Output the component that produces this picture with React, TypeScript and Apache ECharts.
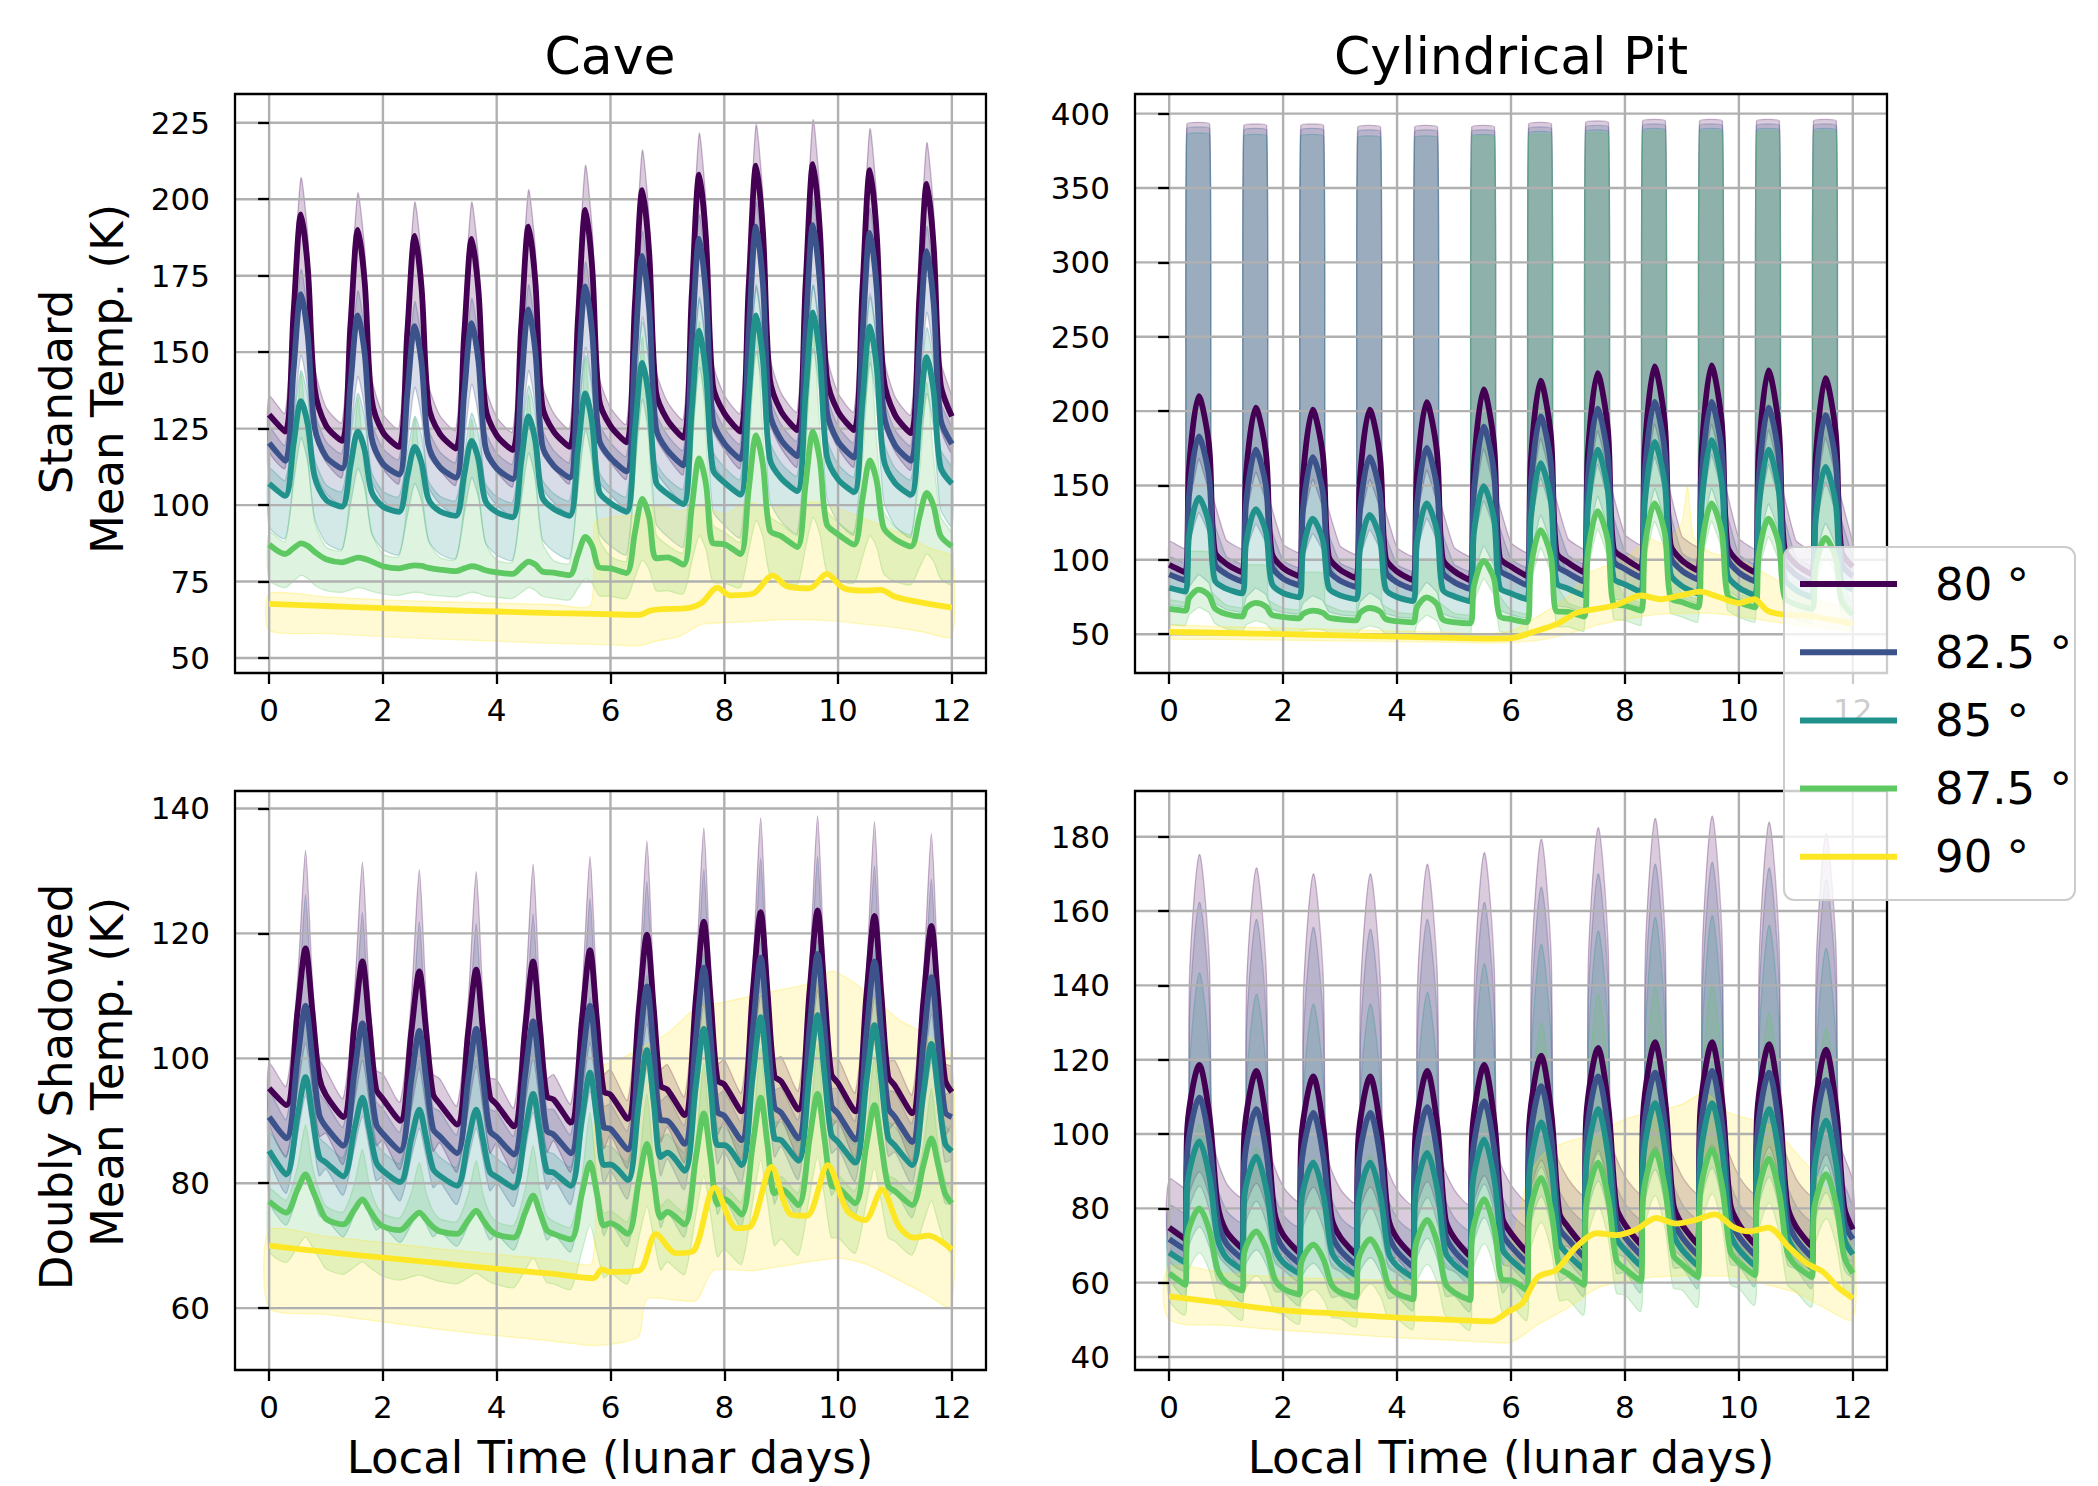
import React, { useEffect, useRef } from 'react';
import * as echarts from 'echarts';

// ---------- labels / categories ----------
const angles = ['80', '82.5', '85', '87.5', '90'];
const colors = ['#440154', '#3b528b', '#21918c', '#5ec962', '#fde725'];
const xTicks = [0, 2, 4, 6, 8, 10, 12];
const tlTicks = [50, 75, 100, 125, 150, 175, 200, 225];
const trTicks = [50, 100, 150, 200, 250, 300, 350, 400];
const blTicks = [60, 80, 100, 120, 140];
const brTicks = [40, 60, 80, 100, 120, 140, 160, 180];

// offsets within each lunar day at which the row values below were read
const cavePh = [0, 0.28, 0.43, 0.56, 0.68, 0.8];
const pitPh = [0, 0.28, 0.35, 0.52, 0.7, 0.8];
const barPh = [0, 0.28, 0.31, 0.71, 0.74];
const caveDblPh = [0, 0.3, 0.5, 0.64, 0.76, 0.88];
const pitDblPh = [0, 0.28, 0.32, 0.53, 0.71, 0.85];
const pitDblHiPh = [0, 0.3, 0.36, 0.53, 0.7, 0.77];

// ---------- Cave, standard ----------
const caveStd80 = [[129.6,124,163.1,195,177.3,138.2],[126,121,159,190,172.8,134.8],[123.8,119,157,188,170.8,132.8],[123.3,118.5,156.2,187,169.9,132.2],[122.8,118,158.2,191,172.8,132.6],[124.1,119,161.6,196.5,177.1,134.5],[125.9,120.5,165.9,203,182.4,137],[127.8,122,169.3,208,186.5,139.2],[130,124,171.9,211,189.3,141.4],[130.6,124.5,172.4,211.5,189.8,141.9],[130.6,124.5,171.3,209.5,188.3,141.5],[129.5,123.5,168.3,205,184.6,139.8],[129]];
const caveStd825 = [[120.3,114.5,144.5,169,155.4,125.4],[115.8,112,139.5,162,149.5,122],[113.5,110,136.7,158.5,146.4,119.7],[112.4,109,136.8,159.5,146.9,119.1],[112,108.5,139,164,150.1,119.6],[112.9,109,143.4,171.5,155.9,121.5],[115.4,111,149.8,181.5,163.9,125.1],[117.9,113,153.7,187,168.5,127.8],[120.2,115,156.8,191,172,130.2],[121.3,116,157.5,191.5,172.6,131.1],[120.8,115.5,155.9,189,170.6,130.2],[119.6,114.5,152.2,183,165.9,128.2],[120]];
const caveStd85 = [[107,103,120.1,134,126.3,109.2],[101.7,99.5,113,124,117.9,104.4],[99.5,97.8,109.5,119,113.7,102],[98,96.5,110,121,114.9,101.4],[97.7,96,114.2,129,120.8,102.6],[98.8,96.5,118.5,136.5,126.5,104.5],[100.6,97.8,124.6,146.5,134.3,107.5],[103.7,100.3,131.5,157,142.8,111.6],[107.4,103.4,135.6,162,147.4,115.1],[108.7,104.6,136.7,163,148.4,116.3],[108.4,104.3,134.1,158.4,144.9,115.1],[107.2,103.4,128.2,148.4,137.2,112.4],[107]];
const caveStd875 = [[87.1,84,85.9,87.5,86.6,84.7],[82.3,81.3,82.1,82.8,82.4,81.6],[80,79.3,79.9,80.3,80.1,79.5],[78.9,78.4,79.3,80,79.6,78.7],[78,77.5,79.7,81.5,80.5,78.3],[77.9,77.1,84,89.6,86.5,79.6],[79.3,77.8,91.1,102,96,82.6],[82.9,80.5,99.6,115.3,106.6,87.5],[87.2,84,105.3,122.8,113.1,91.8],[89.8,86.3,107,124,114.6,93.8],[90.4,87.1,102.2,114.6,107.7,92.6],[88.9,86.5,96.1,104,99.6,90],[86.5]];
const caveStd90 = [[0,67.7],[1,67],[2,66.3],[3,65.7],[4,65.2],[5,64.7],[6,64.3],[6.5,64.1],[6.7,65.5],[6.9,66],[7.3,66.2],[7.6,68],[7.88,73],[8.1,70.5],[8.5,71],[8.85,77],[9.1,73.5],[9.5,72.8],[9.8,77.5],[10.1,72.8],[10.5,72],[10.75,72.3],[11,70],[11.5,68],[12,66.5]];
const caveStd80Hi = [[135.6,130,172.4,207,187.8,145.4],[132,127,168.3,202,183.3,142],[129.8,125,165.7,199,180.5,139.8],[129.3,124.5,165.5,199,180.4,139.4],[128.8,124,167.5,203,183.3,139.8],[130.1,125,172.3,211,189.5,142.2],[131.9,126.5,175.7,216,193.6,144.4],[133.8,128,179.4,221.5,198.1,146.7],[136,130,181.9,224.3,200.7,148.9],[136.6,130.5,183,225.9,202.1,149.6],[136.6,130.5,181.4,223,199.9,149],[135.5,129.5,178.4,218.4,196.2,147.3],[135]];
const caveStd80Lo = [[117.6,112,141.7,166,152.5,122.8],[114,109,136.5,159,146.5,119],[111.8,107,133.4,155,143,116.6],[111.3,106.5,133.7,156,143.6,116.4],[110.8,106,136.3,161,147.3,117],[112.1,107,140.6,168,152.8,119.2],[113.9,108.5,146.7,178,160.6,122.4],[115.8,110,150.7,184,165.5,124.8],[118,112,153.8,188,169,127.2],[118.6,112.5,154,188,169.1,127.6],[118.6,112.5,152.9,186,167.6,127.2],[117.5,111.5,149.2,180,162.9,125.2],[117]];
const caveStd825Hi = [[125.3,119.5,151.1,177,162.6,131],[120.8,117,146.2,170,156.8,127.6],[118.5,115,143.3,166.5,153.6,125.3],[117.4,114,143.4,167.5,154.1,124.7],[117,113.5,145.7,172,157.4,125.2],[117.9,114,150,179.5,163.1,127.1],[120.4,116,156.4,189.5,171.1,130.7],[122.9,118,160.4,195,175.8,133.4],[125.2,120,163.5,199,179.3,135.8],[126.3,121,164.2,199.5,179.9,136.7],[125.8,120.5,162.6,197,177.9,135.8],[124.6,119.5,158.8,191,173.1,133.8],[125]];
const caveStd825Lo = [[108.3,102.5,128.1,149,137.4,111.8],[103.8,100,123.1,142,131.5,108.4],[101.5,98,120.3,138.5,128.4,106.1],[100.4,97,120.4,139.5,128.9,105.5],[100,96.5,122.6,144,132.1,106],[100.9,97,127,151.5,137.9,107.9],[103.4,99,133.4,161.5,145.9,111.5],[105.9,101,137.3,167,150.5,114.2],[108.2,103,140.4,171,154,116.6],[109.3,104,141.1,171.5,154.6,117.5],[108.8,103.5,139.5,169,152.6,116.6],[107.6,102.5,135.8,163,147.9,114.6],[108]];
const caveStd85Hi = [[112,108,127.8,144,135,115.2],[106.7,104.5,122.1,136.5,128.5,110.9],[104.5,102.8,117.2,129,122.5,108],[103,101.5,117.2,130,122.9,107.2],[102.7,101,121.9,139,129.5,108.6],[103.8,101.5,127.6,149,137.1,111],[105.6,102.8,134.3,160,145.7,114.2],[108.7,105.3,139.8,168,152.3,117.8],[112.4,108.4,143.4,172,156.1,121.1],[113.7,109.6,143.9,172,156.4,122.1],[113.4,109.3,141.6,168,153.3,121],[112.2,108.4,135.7,158,145.6,118.3],[112]];
const caveStd85Lo = [[93,89,107.2,122,113.8,95.6],[87.7,85.5,100.1,112,105.4,90.8],[85.5,83.8,96.6,107,101.2,88.4],[84,82.5,97.1,109,102.4,87.8],[83.7,82,101.3,117,108.3,89],[84.8,82.5,105.6,124.5,114,90.9],[86.6,83.8,111.7,134.5,121.8,93.9],[89.7,86.3,118.6,145,130.3,98],[93.4,89.4,122.7,150,134.9,101.5],[94.7,90.6,123.8,151,135.9,102.7],[94.4,90.3,121.2,146.4,132.4,101.5],[93.2,89.4,115.3,136.4,124.7,98.8],[93]];
const caveStd875Hi = [[91.1,88,110,143,115.5,94.6],[86.3,85.3,105.2,135,110.2,91.3],[84,83.3,101.4,128.5,105.9,88.7],[82.9,82.4,100.6,128,105.2,87.9],[82,81.5,103.3,136,108.8,88],[81.9,81.1,107.9,148,114.6,89.1],[83.3,81.8,111.1,155,118.4,90.6],[86.9,84.5,114.7,160,122.3,93.6],[91.2,88,116,158,123,96.4],[93.8,90.3,117.4,158,124.2,98.4],[94.4,91.1,114.7,150,120.6,98.2],[92.9,90.5,110.3,140,115.3,96.4],[90.5]];
const caveStd875Lo = [[75.5,73,75.2,77,76,73.8],[72,71.5,72.3,73,72.6,71.8],[71,70.5,71.1,71.5,71.3,70.7],[70.3,70,70.8,71.5,71.1,70.3],[69.8,69.5,71.4,73,72.1,70.2],[69.5,69,72.9,76,74.3,70.4],[70.2,69.5,76.4,82,78.9,72],[72,71,81.5,90,85.3,74.8],[74.5,73,85.1,95,89.5,77.4],[75.5,74,86.1,96,90.5,78.4],[75.5,74.5,83,90,86.1,77.6],[75,74,79.5,84,81.5,76],[74]];
const caveStd90Hi = [[0,71],[1,70],[2,69],[3,68.4],[4,67.9],[5,67.5],[5.65,67.2],[5.72,94],[6,96],[6.5,97],[6.8,100],[7.2,98],[7.6,100],[8,97],[8.4,101],[8.8,99],[9.2,100],[9.6,101],[10,99],[10.4,96],[10.8,93],[11.2,90],[11.6,86],[12,83]];
const caveStd90Lo = [[0,59],[1,58],[2,57],[3,56.2],[4,55.5],[5,54.8],[6,54.3],[6.5,54],[6.8,55.5],[7.2,57],[7.6,61],[8,61.5],[8.5,62],[9,62.5],[9.5,62.5],[10,62],[10.5,61],[11,60],[11.5,58.5],[12,57]];

// ---------- Cylindrical pit, standard ----------
const pitStd80 = [[96.7,91.5,162.6,210,176.8,105.7],[97.4,91.5,158,202.3,171.3,104.8],[94.5,89,156.2,201,169.6,102.4],[93.3,87.7,155.7,201,169.3,101.3],[92.1,86.4,158.2,206,172.5,100.8],[92.4,86.4,163.3,214.5,178.6,101.8],[95.4,89,167.8,220.4,183.6,104.8],[98.1,91.5,171.9,225.5,188,107.6],[100.8,94.1,175.6,230,191.9,110.4],[99.6,92.8,175.5,230.7,192.1,109.3],[98.4,91.5,173,227.3,189.3,107.8],[97,90.2,169.4,222.2,185.2,106],[95.4]];
const pitStd825 = [[90.2,86,144.2,183,155.8,97.6],[90.4,85.5,138.6,174,149.2,96.1],[87.4,83,134.6,169,144.9,93.3],[86,81.7,134.1,169,144.6,92.2],[84.8,80.4,137.3,175.3,148.7,91.8],[85.1,80.4,145.9,189.5,159,93.5],[88.5,83,151,196.4,164.6,96.6],[91.2,85.5,155.2,201.6,169.1,99.4],[93.8,88,158.9,206.2,173.1,102.2],[92.7,86.8,158.4,206.2,172.8,101.1],[91.5,85.5,155.6,202.3,169.6,99.5],[90,84.2,152,197.2,165.6,97.8],[89]];
const pitStd85 = [[81.2,78.6,116.5,141.8,124.1,86.2],[80.6,77.4,111.4,134,118.2,84.2],[77.6,74.8,106.5,127.6,112.8,81.1],[76.1,73.5,107.5,130.2,114.3,80.3],[75,72.2,111.6,137.9,119.5,80.1],[75.5,72.2,118.6,149.5,127.9,81.5],[77.4,73.5,128.4,165,139.4,84.5],[80.7,76.1,134.8,174,146.6,87.8],[83.5,78.6,139,179.2,151,90.7],[82.4,77.4,139.3,180.5,151.6,89.8],[81.3,76.1,134.8,174,146.6,87.8],[79.7,74.8,127.4,162.4,137.9,85.3],[80]];
const pitStd875 = [[67,65.8,74.3,80,76,67.5],[63.6,61.9,67.4,71,68.5,63],[61.6,60.6,63.7,65.8,64.3,61.2],[60,59.3,64.3,67.6,65.3,60.3],[58.7,58,68.1,74.8,70.1,60],[58.1,57.3,82.5,99.3,87.5,62.3],[60.1,58,95.2,120,102.6,65.4],[65,61.9,104.4,132.8,112.9,70.4],[69.3,65.8,109.1,138,117.8,74.5],[71.6,68,110,138,118.4,76.4],[71.5,68,103.8,127.6,110.9,75.2],[70,67,95.6,114.7,101.3,72.7],[63]];
const pitStd90 = [[0,51.6],[1,50.8],[2,50],[3,49.2],[4,48.3],[5,47.5],[5.6,47],[6,47.3],[6.4,51.6],[6.8,56.7],[7.16,64.5],[7.5,67],[7.85,69.6],[8.28,76],[8.63,73.5],[8.97,76],[9.32,78.6],[9.66,74.8],[10,70.9],[10.27,73.5],[10.5,65.8],[10.78,63.2],[11.2,62.5],[11.6,60],[12,57]];
const pitStd80Hi = [[112.7,107.5,393,393,148],[113.4,107.5,392,392,145.3],[110.5,105,392,392,143.2],[109.3,103.7,391,391,142.4],[108.1,102.4,391,391,143.3],[108.4,102.4,391,391,146.2],[111.4,105,393,393,150],[114.1,107.5,394,394,153.4],[116.8,110.1,395,395,156.7],[115.6,108.8,395,395,156.1],[114.4,107.5,395,395,154],[113,106.2,395,395,151.4],[111]];
const pitStd80Lo = [[90.2,86,135.2,168,145,95.8],[90.4,85.5,129.6,159,138.4,94.3],[87.4,83,125.6,154,134.1,91.5],[86,81.7,125.1,154,133.8,90.4],[84.8,80.4,128.3,160.3,137.9,90],[85.1,80.4,136.9,174.5,148.2,91.7],[88.5,83,142,181.4,153.8,94.8],[91.2,85.5,146.2,186.6,158.3,97.6],[93.8,88,149.9,191.2,162.3,100.4],[92.7,86.8,149.4,191.2,162,99.3],[91.5,85.5,146.6,187.3,158.8,97.7],[90,84.2,143,182.2,154.8,96],[89]];
const pitStd825Hi = [[102.2,98,390,390,132],[102.4,97.5,389,389,128.5],[99.4,95,389,389,125.1],[98,93.7,388,388,124.3],[96.8,92.4,388,388,125.6],[97.1,92.4,388,388,130.6],[100.5,95,390,390,134.7],[103.2,97.5,391,391,138.1],[105.8,100,392,392,141.4],[104.7,98.8,392,392,140.6],[103.5,97.5,392,392,138.4],[102,96.2,392,392,135.8],[101]];
const pitStd825Lo = [[81.2,78.6,110.5,131.8,116.9,85],[80.6,77.4,105.4,124,111,83],[77.6,74.8,100.5,117.6,105.6,79.9],[76.1,73.5,101.5,120.2,107.1,79.1],[75,72.2,105.6,127.9,112.3,78.9],[75.5,72.2,112.6,139.5,120.7,80.3],[77.4,73.5,122.4,155,132.2,83.3],[80.7,76.1,128.8,164,139.4,86.6],[83.5,78.6,133,169.2,143.8,89.5],[82.4,77.4,133.3,170.5,144.4,88.6],[81.3,76.1,128.8,164,139.4,86.6],[79.7,74.8,121.4,152.4,130.7,84.1],[80]];
const pitStd85Hi = [[91.2,88.6,386,386,110.7],[90.6,87.4,385,385,107.2],[87.6,84.8,385,385,103.3],[86.1,83.5,384,384,103.3],[85,82.2,384,384,105.2],[85.5,82.2,385,385,109.3],[87.4,83.5,387,387,115.5],[90.7,86.1,388,388,120.4],[93.5,88.6,389,389,123.8],[92.4,87.4,389,389,123.5],[91.3,86.1,389,389,120.4],[89.7,84.8,389,389,115.5],[90]];
const pitStd85Lo = [[70,68.8,81.5,90,84.1,71.3],[66.6,64.9,74.6,81,76.5,66.8],[64.6,63.6,70.9,75.8,72.4,65.1],[63,62.3,71.5,77.6,73.3,64.1],[61.7,61,75.3,84.8,78.1,63.9],[61.1,60.3,89.7,109.3,95.6,66.2],[63.1,61,102.4,130,110.7,69.3],[68,64.9,111.6,142.8,121,74.2],[72.3,68.8,116.3,148,125.8,78.3],[74.6,71,117.2,148,126.4,80.2],[74.5,71,111,137.6,119,79],[73,70,102.8,124.7,109.4,76.6],[66]];
const pitStd875Hi = [[73,71.8,105,105,78.8],[69.6,67.9,96,96,73.1],[67.6,66.6,91,91,70.4],[66,65.3,93,93,70.2],[64.7,64,100,100,71.9],[64.1,63.3,384,384,80],[66.1,64,385,385,87.7],[71,67.9,386,386,94.7],[75.3,71.8,387,387,99.1],[77.6,74,387,387,100.5],[77.5,74,387,387,96.9],[76,73,387,387,91.7],[69]];
const pitStd875Lo = [[57,55.8,63.1,68,64.6,57.3],[53.6,51.9,56.2,59,57,52.8],[51.6,50.6,52.5,53.8,52.9,51],[50,49.3,53.1,55.6,53.8,50.1],[48.7,48,56.9,62.8,58.7,49.8],[48.1,47.3,71.3,87.3,76.1,52.1],[50.1,48,84,108,91.2,55.2],[55,51.9,93.2,120.8,101.5,60.2],[59.3,55.8,97.9,126,106.3,64.2],[61.6,58,98.8,126,107,66.2],[61.5,58,92.6,115.6,99.5,64.9],[60,57,84.4,102.7,89.9,62.5],[53]];
const pitStd90Hi = [[0,56],[1,55],[2,54],[3,53],[4,52],[5,51],[5.6,50.5],[6,52],[6.3,58],[6.6,65],[7,75],[7.3,90],[7.6,95],[8,100],[8.4,115],[8.7,110],[9,125],[9.1,150],[9.2,115],[9.5,105],[10,100],[10.5,90],[11,80],[11.5,72],[12,66]];
const pitStd90Lo = [[0,47],[1,46.5],[2,46],[3,45.5],[4,45],[5,44.5],[5.6,44],[6,44.5],[6.5,46],[7,50],[7.5,56],[8,60],[8.5,63],[9,64],[9.5,64],[10,62],[10.5,59],[11,56],[11.5,54],[12,52]];

// ---------- Cave, doubly shadowed ----------
const caveDbl80 = [[95.2,92.5,107.6,117.6,107.6,97],[94.1,90.6,105.5,115.5,105.5,95.1],[93.5,90,104.3,113.9,104.3,94.3],[92.7,89.4,104.3,114.2,104.3,93.9],[92.6,89.1,104.9,115.5,104.9,93.9],[93.4,89.7,106.3,117.3,106.3,94.7],[94.2,90.3,108,119.8,108,95.6],[95,90.9,109.5,121.9,109.5,96.5],[95.8,91.5,110.6,123.4,110.6,97.2],[96.3,91.8,110.9,123.7,110.9,97.5],[96,91.5,110.3,122.8,110.3,97.1],[95.6,91.2,109.2,121.2,109.2,96.6],[94.6]];
const caveDbl825 = [[90.6,87.2,99.9,108.4,99.9,91],[89,86,97.8,105.6,97.8,89.5],[87.9,85.2,96.7,104.4,96.7,88.7],[87.5,84.8,96.7,104.7,96.7,88.4],[87.4,84.6,97.4,105.9,97.4,88.4],[87.8,84.8,99,108.4,99,89],[88.7,85.4,101.1,111.5,101.1,90.1],[90,86.3,103.2,114.5,103.2,91.4],[90.8,86.9,104.4,116.1,104.4,92.2],[91.3,87.2,104.9,116.7,104.9,92.5],[91.1,87,104.1,115.5,104.1,92.1],[90.6,86.6,102.4,113,102.4,91.4],[90.6]];
const caveDbl85 = [[85.2,81.4,90.8,97,90.8,84.2],[83.3,81.1,88.7,93.7,88.7,83.4],[82,80.2,87.2,91.8,87.2,82.3],[81.2,79.6,86.9,91.8,86.9,81.8],[81,79.3,88.3,94.3,88.3,82],[81.7,79.6,90.5,97.7,90.5,82.9],[83,80.5,93,101.3,93,84.2],[84.9,82,95.6,104.7,95.6,86.1],[86.1,82.9,97.1,106.6,97.1,87.2],[86.9,83.6,97.6,106.9,97.6,87.8],[86.6,83.3,96.5,105.3,96.5,87.3],[86,82.9,94.5,102.3,94.5,86.4],[85.1]];
const caveDbl875 = [[77.1,75.3,79,81.4,79,76.4],[74.3,73.4,75.8,77.4,75.8,74.1],[73.1,72.5,74.2,75.3,74.2,73],[72.3,71.9,74.1,75.6,74.1,72.6],[71.8,71.3,75.3,78,75.3,72.5],[71.9,71,78.4,83.3,78.4,73.2],[73.6,71.9,80.5,86.3,80.5,74.5],[75.4,73.4,84.1,91.2,84.1,76.6],[77.5,75,86.2,93.7,86.2,78.4],[79.1,76.5,87.2,94.3,87.2,79.7],[79.3,76.8,86.2,92.5,86.2,79.6],[78.7,76.5,82.9,87.2,82.9,78.4],[76.8]];
const caveDbl90 = [[0,70],[1,69],[2,68.1],[3,67.2],[4,66.3],[5,65.5],[5.7,64.8],[5.85,66.2],[6,65.8],[6.5,66],[6.8,71.9],[7.15,68.8],[7.45,69.1],[7.83,79.3],[8.22,72.8],[8.45,73],[8.83,82.6],[9.17,75],[9.45,74.8],[9.82,82.9],[10.16,75.6],[10.47,74.1],[10.77,79],[11.07,73.1],[11.33,71.3],[11.59,71.6],[12,69.4]];
const caveDbl80Hi = [[99.2,95.5,112.5,133.3,112.5,100],[98.1,93.6,110.6,131.4,110.6,98.1],[97.5,93,109.7,130.2,109.7,97.5],[96.7,92.4,109.3,129.9,109.3,96.9],[96.6,92.1,109.7,131.1,109.7,96.8],[97.4,92.7,110.5,132.3,110.5,97.5],[98.2,93.3,112,134.8,112,98.3],[99,93.9,113.3,136.9,113.3,99.1],[99.8,94.5,114.3,138.5,114.3,99.8],[100.3,94.8,114.6,138.8,114.6,100.1],[100,94.5,114,137.9,114,99.7],[99.6,94.2,113,136,113,99.2],[98.6]];
const caveDbl80Lo = [[89.6,84.2,95.1,102.4,95.1,87.5],[88,83,93,99.6,93,86],[86.9,82.2,91.9,98.4,91.9,85.1],[86.5,81.8,91.9,98.7,91.9,84.8],[86.4,81.6,92.6,99.9,92.6,84.9],[86.8,81.8,94.2,102.4,94.2,85.5],[87.7,82.4,96.3,105.5,96.3,86.6],[89,83.3,98.4,108.5,98.4,87.8],[89.8,83.9,99.6,110.1,99.6,88.6],[90.3,84.2,100.1,110.7,100.1,89],[90.1,84,99.3,109.5,99.3,88.6],[89.6,83.6,97.6,107,97.6,87.8],[89.6]];
const caveDbl825Hi = [[94.6,90.2,106.4,126.2,106.4,94.5],[93,89,104.5,123.4,104.5,93.1],[91.9,88.2,103.4,121.9,103.4,92.2],[91.5,87.8,103,121.6,103,91.9],[91.4,87.6,103.6,123.1,103.6,91.9],[91.8,87.8,104.8,125.6,104.8,92.3],[92.7,88.4,106.4,128.3,106.4,93.2],[94,89.3,107.7,130.2,107.7,94.2],[94.8,89.9,108.8,132,108.8,95],[95.3,90.2,109.1,132.3,109.1,95.3],[95.1,90,108.4,130.8,108.4,94.9],[94.6,89.6,107.2,128.7,107.2,94.3],[94.6]];
const caveDbl825Lo = [[84.2,78.4,87.8,94,87.8,81.2],[82.3,78.1,85.7,90.7,85.7,80.4],[81,77.2,84.2,88.8,84.2,79.3],[80.2,76.6,83.9,88.8,83.9,78.8],[80,76.3,85.3,91.3,85.3,79],[80.7,76.6,87.5,94.7,87.5,79.9],[82,77.5,90,98.3,90,81.2],[83.9,79,92.6,101.7,92.6,83.1],[85.1,79.9,94.1,103.6,94.1,84.2],[85.9,80.6,94.6,103.9,94.6,84.8],[85.6,80.3,93.5,102.3,93.5,84.3],[85,79.9,91.5,99.3,91.5,83.4],[84]];
const caveDbl85Hi = [[88.2,84.4,95.5,109,95.5,87.4],[86.3,84.1,93.8,105.7,93.8,86.7],[85,83.2,92.5,103.8,92.5,85.7],[84.2,82.6,92.1,103.8,92.1,85.1],[84,82.3,93.1,106.3,93.1,85.2],[84.7,82.6,94.8,109.7,94.8,85.9],[86,83.5,96.9,113.3,96.9,87.1],[87.9,85,99.3,116.7,99.3,88.8],[89.1,85.9,100.6,118.6,100.6,89.8],[89.9,86.6,101.1,118.9,101.1,90.5],[89.6,86.3,100.3,117.3,100.3,90],[89,85.9,98.7,114.3,98.7,89.3],[88]];
const caveDbl85Lo = [[77.1,73.3,78.2,81.4,78.2,74.8],[74.3,71.4,75,77.4,75,72.5],[73.1,70.5,73.4,75.3,73.4,71.4],[72.3,69.9,73.3,75.6,73.3,70.9],[71.8,69.3,74.5,78,74.5,70.9],[71.9,69,77.6,83.3,77.6,71.6],[73.6,69.9,79.7,86.3,79.7,72.9],[75.4,71.4,83.3,91.2,83.3,75],[77.5,73,85.4,93.7,85.4,76.7],[79.1,74.5,86.4,94.3,86.4,78.1],[79.3,74.8,85.4,92.5,85.4,78],[78.7,74.5,82.1,87.2,82.1,76.8],[76.8]];
const caveDbl875Hi = [[79.1,77.3,82.7,89.4,82.7,78.8],[76.3,75.4,79.9,85.4,79.9,76.6],[75.1,74.5,78.5,83.3,78.5,75.6],[74.3,73.9,78.3,83.6,78.3,75.1],[73.8,73.3,79,86,79,74.8],[73.9,73,81.2,91.3,81.2,75.2],[75.6,73.9,83.1,94.3,83.1,76.3],[77.4,75.4,86.1,99.2,86.1,78.3],[79.5,77,88.1,101.7,88.1,80],[81.1,78.5,89.2,102.3,89.2,81.4],[81.3,78.8,88.6,100.5,88.6,81.4],[80.7,78.5,86,95.2,86,80.5],[78.8]];
const caveDbl875Lo = [[69.1,67.3,69.8,71.4,69.8,68],[66.3,65.4,66.6,67.4,66.6,65.8],[65.1,64.5,65,65.3,65,64.6],[64.3,63.9,64.9,65.6,64.9,64.2],[63.8,63.3,66.1,68,66.1,64.1],[63.9,63,69.2,73.3,69.2,64.9],[65.6,63.9,71.3,76.3,71.3,66.1],[67.4,65.4,74.9,81.2,74.9,68.2],[69.5,67,77,83.7,77,70],[71.1,68.5,78,84.3,78,71.3],[71.3,68.8,77,82.5,77,71.3],[70.7,68.5,73.7,77.2,73.7,70.1],[68.8]];
const caveDbl90Hi = [[0,72.5],[1,71.5],[2,70.5],[3,69.5],[4,68.6],[5,67.8],[5.68,67.3],[5.75,98],[6.2,100],[6.6,102],[7,104],[7.5,108],[8,109],[8.5,110],[9,111],[9.5,112],[9.9,114],[10.3,112],[10.7,109],[11.1,106],[11.5,104],[12,100]];
const caveDbl90Lo = [[0,60],[1,59],[2,57.8],[3,56.6],[4,55.6],[5,54.7],[5.7,54],[6.2,54.5],[6.5,55.5],[6.65,61.5],[7.5,61.2],[7.8,66],[8.5,66],[9,66.7],[10,68],[10.5,67],[11,64.8],[11.5,62.5],[12,60.2]];

// ---------- Cylindrical pit, doubly shadowed ----------
const pitDbl80 = [[74.8,71.7,102.2,118.6,104.5,81.1],[73.9,69.2,100.3,117,102.7,78.8],[72.9,68.1,98.9,115.5,101.3,77.6],[72.3,67.6,98.7,115.5,101.1,77.2],[71.9,67.1,99.5,117,102,77.1],[72.1,67.1,100.6,118.6,103.2,77.4],[73.3,68.1,102.6,121.1,105.2,78.7],[75,69.7,104.5,123.2,107.2,80.4],[75.6,70.2,105.6,124.7,108.4,81.1],[75.7,70.2,105.6,124.7,108.4,81.1],[75.7,70.2,105.3,124.2,108,81],[75.1,69.7,104.2,122.7,106.8,80.3],[74.3]];
const pitDbl825 = [[71.7,68.9,95.5,109.8,97.5,77.1],[70.6,66.5,92.6,106.7,94.6,74.5],[69.3,65.3,91.6,105.7,93.6,73.4],[68.8,64.8,91.4,105.7,93.4,73],[68.4,64.3,92.2,107.2,94.3,72.9],[68.6,64.3,93.2,108.8,95.5,73.2],[69.8,65.3,96.2,112.9,98.6,74.8],[71.7,66.9,98.5,115.5,100.9,76.6],[72.3,67.4,99.3,116.5,101.8,77.2],[72.3,67.4,99.6,117,102.1,77.3],[72.4,67.4,99.3,116.5,101.8,77.2],[71.8,66.9,97.8,114.5,100.2,76.4],[71.7]];
const pitDbl85 = [[68.1,65.4,86.6,98,88.2,71.9],[66.8,63.5,83.3,93.9,84.8,69.6],[65.5,62.5,81.9,92.3,83.4,68.5],[65,62,81.7,92.3,83.2,68.1],[64.5,61.5,83.2,94.9,84.9,68.2],[65,61.7,85.6,98.5,87.5,69.1],[66.2,62.5,88.9,103.1,90.9,70.6],[67.6,63.5,91.6,106.7,93.7,72.1],[68.8,64.5,93,108.3,95.2,73.3],[68.9,64.5,93,108.3,95.2,73.3],[68.9,64.5,91.9,106.7,94,72.9],[68.2,64,89.7,103.6,91.7,71.9],[67.6]];
const pitDbl875 = [[62.5,59.4,72.8,80,73.8,63.5],[60,57.9,68.2,73.8,69,61.1],[58.4,56.8,65.5,70.2,66.2,59.5],[57.4,56.1,66.2,71.7,67,59.2],[57.1,55.5,69.4,76.9,70.5,59.8],[57.4,55.3,73,82.5,74.3,60.7],[60.6,57.9,77.6,88.2,79.1,64],[62.4,59.4,80.8,92.3,82.4,66],[63.7,60.4,83.2,95.4,84.9,67.4],[65,61.5,83.9,95.9,85.6,68.4],[65.4,62,82.4,93.4,84,68.3],[64.6,61.5,79.5,89.2,80.9,67],[62.5]];
const pitDbl90 = [[0,56.3],[1,54.4],[1.9,52.7],[3,51.6],[4,50.6],[5,50],[5.65,49.6],[5.95,52.2],[6.2,54.5],[6.47,61.5],[6.8,63.5],[7.15,69.7],[7.5,73.3],[7.85,72.8],[8.2,74.3],[8.55,77.4],[8.9,75.9],[9.24,76.9],[9.58,78.4],[9.92,74.8],[10.18,73.8],[10.52,74.8],[10.87,69.7],[11.2,65.1],[11.47,63],[11.73,58.9],[12,55.8]];
const pitDbl80Hi = [[87.8,85.7,143.9,175.2,148.4,99.1],[86.9,83.2,140.7,171.6,145.1,96.5],[85.9,82.1,139.2,170,143.6,95.3],[85.3,81.6,139.1,170,143.5,94.9],[84.9,81.1,140.6,172.6,145.2,94.8],[85.1,81.1,142.6,175.7,147.3,95.3],[86.3,82.1,145.3,179.3,150.1,96.7],[88,83.7,147.9,182.4,152.8,98.5],[88.6,84.2,149.7,184.9,154.7,99.3],[88.7,84.2,150,185.5,155.1,99.4],[88.7,84.2,149,183.9,154,99.2],[88.1,83.7,146.8,180.8,151.7,98.3],[87]];
const pitDbl80Lo = [[69.7,66.9,81.8,89.8,82.9,71.5],[68.6,64.5,78.9,86.7,80,68.9],[67.3,63.3,77.9,85.7,79,67.8],[66.8,62.8,77.7,85.7,78.8,67.4],[66.4,62.3,78.5,87.2,79.7,67.3],[66.6,62.3,79.5,88.8,80.9,67.6],[67.8,63.3,82.5,92.9,84,69.2],[69.7,64.9,84.8,95.5,86.3,71],[70.3,65.4,85.6,96.5,87.2,71.6],[70.3,65.4,85.9,97,87.5,71.7],[70.4,65.4,85.6,96.5,87.2,71.6],[69.8,64.9,84.1,94.5,85.6,70.8],[69.7]];
const pitDbl825Hi = [[80.7,78.9,133.1,162.3,137.3,91.4],[79.6,76.5,129.3,157.7,133.3,88.7],[78.3,75.3,127.5,155.6,131.5,87.3],[77.8,74.8,127,155.1,131,86.8],[77.4,74.3,128.5,157.7,132.7,86.8],[77.6,74.3,131.5,162.3,135.9,87.5],[78.8,75.3,134.5,166.4,139.1,89],[80.7,76.9,137.4,170,142.1,90.9],[81.3,77.4,139.3,172.6,144,91.7],[81.3,77.4,139.6,173.1,144.4,91.8],[81.4,77.4,138.6,171.6,143.3,91.5],[80.8,76.9,136.4,168.5,141,90.6],[80]];
const pitDbl825Lo = [[66.1,63.4,78.1,86,79.2,67.9],[64.8,61.5,74.8,81.9,75.8,65.6],[63.5,60.5,73.4,80.3,74.4,64.5],[63,60,73.2,80.3,74.2,64.1],[62.5,59.5,74.7,82.9,75.9,64.2],[63,59.7,77.1,86.5,78.5,65.1],[64.2,60.5,80.4,91.1,81.9,66.6],[65.6,61.5,83.1,94.7,84.7,68.1],[66.8,62.5,84.5,96.3,86.2,69.3],[66.9,62.5,84.5,96.3,86.2,69.3],[66.9,62.5,83.4,94.7,85,68.9],[66.2,62,81.2,91.6,82.7,67.9],[65.6]];
const pitDbl85Hi = [[75.1,73.4,118.8,143.3,122.3,83.9],[73.8,71.5,114.5,137.6,117.8,81.4],[72.5,70.5,112.4,135,115.7,80.2],[72,70,112.3,135,115.5,79.8],[71.5,69.5,114.1,138.1,117.5,79.8],[72,69.7,119.2,145.8,123,81.1],[73.2,70.5,122.8,151,126.9,82.6],[74.6,71.5,125.5,154.6,129.7,84],[75.8,72.5,128.2,158.2,132.5,85.4],[75.9,72.5,128.5,158.7,132.8,85.4],[75.9,72.5,126.8,156.1,131,85],[75.2,72,122.7,150,126.6,83.7],[74]];
const pitDbl85Lo = [[61.5,56.4,68.5,75,69.4,60.1],[59,54.9,63.9,68.8,64.6,57.7],[57.4,53.8,61.2,65.2,61.8,56.1],[56.4,53.1,61.9,66.7,62.6,55.8],[56.1,52.5,65.1,71.9,66.1,56.4],[56.4,52.3,68.7,77.5,69.9,57.3],[59.6,54.9,73.3,83.2,74.7,60.6],[61.4,56.4,76.5,87.3,78,62.6],[62.7,57.4,78.9,90.4,80.5,64],[64,58.5,79.6,90.9,81.2,65],[64.4,59,78.1,88.4,79.6,64.9],[63.6,58.5,75.2,84.2,76.5,63.6],[61.5]];
const pitDbl875Hi = [[68.5,65.4,89.6,102.6,91.4,71],[66,63.9,85,96.4,86.7,68.8],[64.4,62.8,82.7,93.4,84.2,67.4],[63.4,62.1,83.1,94.4,84.7,66.9],[63.1,61.5,86.2,99.5,88.1,67.2],[63.4,61.3,99.5,120,102.4,70.1],[66.6,63.9,106.9,130,110.2,73.8],[68.4,65.4,112.3,137.6,115.9,76.2],[69.7,66.4,114,139.7,117.7,77.4],[71,67.5,114.8,140.2,118.4,78.4],[71.4,68,109.9,132.5,113.2,77.7],[70.6,67.5,107,128.3,110.1,76.6],[68.5]];
const pitDbl875Lo = [[55.5,51.4,62.2,68,63,54.7],[53,49.9,57.6,61.8,58.2,52.3],[51.4,48.8,54.9,58.2,55.4,50.7],[50.4,48.1,55.6,59.7,56.2,50.4],[50.1,47.5,58.8,64.9,59.7,51],[50.4,47.3,62.4,70.5,63.5,51.9],[53.6,49.9,67,76.2,68.3,55.2],[55.4,51.4,70.2,80.3,71.6,57.2],[56.7,52.4,72.6,83.4,74.1,58.6],[58,53.5,73.3,83.9,74.8,59.6],[58.4,54,71.8,81.4,73.2,59.5],[57.6,53.5,68.9,77.2,70.1,58.2],[55.5]];
const pitDbl90Hi = [[0,64],[1,62.5],[2,61.5],[3,61],[4,60.6],[5,60.3],[5.7,60],[6,70],[6.3,88],[6.6,95],[7,98],[7.5,100],[8,104],[8.5,106],[9,108],[9.4,111],[9.8,106],[10.2,104],[10.6,102],[11,95],[11.4,88],[11.8,78],[12,72]];
const pitDbl90Lo = [[0,50.2],[1,48.5],[2,47.2],[3,46.2],[4,45.2],[5,44.5],[5.6,44],[6,44],[6.5,49],[7,53.2],[7.5,58.4],[8,60.4],[8.5,61.5],[9,61.8],[9.5,61.8],[10,61.5],[10.5,59.4],[11,57.3],[11.5,53.2],[12,50.2]];

// ---------- helpers ----------
const FONT = '"DejaVu Sans", sans-serif';
const X_MIN = -0.6;
const X_MAX = 12.6;

function cyc(rows: number[][], phase: number[]): number[][] {
  const out: number[][] = [];
  rows.forEach((row, day) => row.forEach((v, j) => out.push([day + phase[j], v])));
  return out;
}
function rgba(hex: string, a: number) {
  const n = parseInt(hex.slice(1), 16);
  return `rgba(${n >> 16},${(n >> 8) & 255},${n & 255},${a})`;
}

export default function App() {
  const ref = useRef<HTMLDivElement>(null);
  useEffect(() => {
    if (!ref.current) return;
    const chart = echarts.init(ref.current, undefined, { renderer: 'svg' });

    const panels = [
      {
        left: 235, top: 94, width: 751, height: 579, yMin: 45.1, yMax: 234.4, yTicks: tlTicks, bandSmooth: 0.22,
        lines: [cyc(caveStd80, cavePh), cyc(caveStd825, cavePh), cyc(caveStd85, cavePh), cyc(caveStd875, cavePh), caveStd90],
        hi: [cyc(caveStd80Hi, cavePh), cyc(caveStd825Hi, cavePh), cyc(caveStd85Hi, cavePh), cyc(caveStd875Hi, cavePh), caveStd90Hi],
        lo: [cyc(caveStd80Lo, cavePh), cyc(caveStd825Lo, cavePh), cyc(caveStd85Lo, cavePh), cyc(caveStd875Lo, cavePh), caveStd90Lo],
      },
      {
        left: 1135, top: 94, width: 752, height: 579, yMin: 23.9, yMax: 413.2, yTicks: trTicks, bandSmooth: 0.1,
        lines: [cyc(pitStd80, pitPh), cyc(pitStd825, pitPh), cyc(pitStd85, pitPh), cyc(pitStd875, pitPh), pitStd90],
        hi: [cyc(pitStd80Hi, barPh), cyc(pitStd825Hi, barPh), cyc(pitStd85Hi, barPh), cyc(pitStd875Hi, barPh), pitStd90Hi],
        lo: [cyc(pitStd80Lo, pitPh), cyc(pitStd825Lo, pitPh), cyc(pitStd85Lo, pitPh), cyc(pitStd875Lo, pitPh), pitStd90Lo],
      },
      {
        left: 235, top: 791, width: 751, height: 579, yMin: 50.1, yMax: 142.8, yTicks: blTicks, bandSmooth: 0.22,
        lines: [cyc(caveDbl80, caveDblPh), cyc(caveDbl825, caveDblPh), cyc(caveDbl85, caveDblPh), cyc(caveDbl875, caveDblPh), caveDbl90],
        hi: [cyc(caveDbl80Hi, caveDblPh), cyc(caveDbl825Hi, caveDblPh), cyc(caveDbl85Hi, caveDblPh), cyc(caveDbl875Hi, caveDblPh), caveDbl90Hi],
        lo: [cyc(caveDbl80Lo, caveDblPh), cyc(caveDbl825Lo, caveDblPh), cyc(caveDbl85Lo, caveDblPh), cyc(caveDbl875Lo, caveDblPh), caveDbl90Lo],
      },
      {
        left: 1135, top: 791, width: 752, height: 579, yMin: 36.5, yMax: 192.3, yTicks: brTicks, bandSmooth: 0.3,
        lines: [cyc(pitDbl80, pitDblPh), cyc(pitDbl825, pitDblPh), cyc(pitDbl85, pitDblPh), cyc(pitDbl875, pitDblPh), pitDbl90],
        hi: [cyc(pitDbl80Hi, pitDblHiPh), cyc(pitDbl825Hi, pitDblHiPh), cyc(pitDbl85Hi, pitDblHiPh), cyc(pitDbl875Hi, pitDblHiPh), pitDbl90Hi],
        lo: [cyc(pitDbl80Lo, pitDblPh), cyc(pitDbl825Lo, pitDblPh), cyc(pitDbl85Lo, pitDblPh), cyc(pitDbl875Lo, pitDblPh), pitDbl90Lo],
      },
    ];

    const grids: any[] = [];
    const xAxes: any[] = [];
    const yAxes: any[] = [];
    const series: any[] = [];

    panels.forEach((p, gi) => {
      grids.push({
        left: p.left, top: p.top, width: p.width, height: p.height,
        show: true, borderColor: '#000', borderWidth: 2.3, backgroundColor: 'rgba(0,0,0,0)', z: 4,
        containLabel: false, outerBoundsMode: 'none',
      });
      xAxes.push({
        gridIndex: gi, type: 'value', min: X_MIN, max: X_MAX, z: 2,
        axisLine: { show: false },
        splitLine: { show: false },
        axisTick: { show: true, inside: false, length: 11, lineStyle: { color: '#000', width: 2.3 }, customValues: xTicks },
        axisLabel: { show: true, customValues: xTicks, fontSize: 31, color: '#000', fontFamily: FONT, margin: 21 },
      });
      yAxes.push({
        gridIndex: gi, type: 'value', min: p.yMin, max: p.yMax, z: 2,
        axisLine: { show: false },
        splitLine: { show: false },
        axisTick: { show: true, inside: false, length: 11, lineStyle: { color: '#000', width: 2.3 }, customValues: p.yTicks },
        axisLabel: { show: true, customValues: p.yTicks, fontSize: 31, color: '#000', fontFamily: FONT, margin: 25 },
      });
      // min–max bands
      angles.forEach((a, i) => {
        const hi = p.hi[i];
        const lo = p.lo[i];
        series.push({
          type: 'custom', name: a + ' band', xAxisIndex: gi, yAxisIndex: gi, z: 1, silent: true, clip: true,
          data: [[hi[0][0], hi[0][1]]],
          renderItem: (_params: any, api: any) => {
            const pts = hi.map((q) => api.coord(q)).concat(lo.slice().reverse().map((q) => api.coord(q)));
            return {
              type: 'polygon',
              shape: { points: pts, smooth: p.bandSmooth },
              style: { fill: rgba(colors[i], 0.2), stroke: rgba(colors[i], 0.28), lineWidth: 1.3 },
            };
          },
        });
      });
      // grid lines
      series.push({
        type: 'custom', xAxisIndex: gi, yAxisIndex: gi, z: 2, silent: true,
        data: xTicks.map((v) => [v, p.yMin]),
        renderItem: (_params: any, api: any) => {
          const v = api.value(0);
          const s = api.coord([v, p.yMin]);
          const e = api.coord([v, p.yMax]);
          return { type: 'line', shape: { x1: s[0], y1: s[1], x2: e[0], y2: e[1] }, style: { stroke: '#b0b0b0', lineWidth: 2.4 } };
        },
      });
      series.push({
        type: 'custom', xAxisIndex: gi, yAxisIndex: gi, z: 2, silent: true,
        data: p.yTicks.map((v) => [X_MIN, v]),
        renderItem: (_params: any, api: any) => {
          const v = api.value(1);
          const s = api.coord([X_MIN, v]);
          const e = api.coord([X_MAX, v]);
          return { type: 'line', shape: { x1: s[0], y1: s[1], x2: e[0], y2: e[1] }, style: { stroke: '#b0b0b0', lineWidth: 2.4 } };
        },
      });
      // mean lines
      angles.forEach((a, i) => {
        series.push({
          type: 'line', name: a + '°', xAxisIndex: gi, yAxisIndex: gi, z: 3, silent: true,
          data: p.lines[i], showSymbol: false, symbol: 'none', smooth: 0.3,
          lineStyle: { color: colors[i], width: 5.8 }, itemStyle: { color: colors[i] },
        });
      });
    });

    const txt = (text: string, x: number, y: number, size: number, rot = 0) => ({
      type: 'text', x, y, rotation: rot, z: 50,
      style: { text, font: `${size}px ${FONT}`, fill: '#000', align: 'center', verticalAlign: 'middle' },
    });

    const legendItems: any[] = [
      {
        type: 'rect', z: 100,
        shape: { x: 1784, y: 547, width: 291, height: 353, r: 10 },
        style: { fill: 'rgba(255,255,255,0.8)', stroke: '#cccccc', lineWidth: 2 },
      },
    ];
    angles.forEach((a, i) => {
      const y = 584 + i * 68.2;
      legendItems.push({
        type: 'line', z: 101,
        shape: { x1: 1800, y1: y, x2: 1897, y2: y },
        style: { stroke: colors[i], lineWidth: 6 },
      });
      legendItems.push({
        type: 'text', x: 1935, y, z: 101,
        style: { text: a + ' °', font: `45px ${FONT}`, fill: '#000', align: 'left', verticalAlign: 'middle' },
      });
    });

    chart.setOption({
      animation: false,
      backgroundColor: '#ffffff',
      grid: grids,
      xAxis: xAxes,
      yAxis: yAxes,
      series,
      graphic: [
        txt('Cave', 610, 56, 52),
        txt('Cylindrical Pit', 1511, 56, 52),
        txt('Standard', 56, 392, 45, Math.PI / 2),
        txt('Mean Temp. (K)', 107, 379, 45, Math.PI / 2),
        txt('Doubly Shadowed', 56, 1087, 45, Math.PI / 2),
        txt('Mean Temp. (K)', 107, 1072, 45, Math.PI / 2),
        txt('Local Time (lunar days)', 610, 1457, 45),
        txt('Local Time (lunar days)', 1511, 1457, 45),
        ...legendItems,
      ],
    });
    return () => chart.dispose();
  }, []);
  return (
    <div
      ref={ref}
      style={{ position: 'absolute', left: 0, top: 0, width: 2098, height: 1486, background: '#fff' }}
    />
  );
}
